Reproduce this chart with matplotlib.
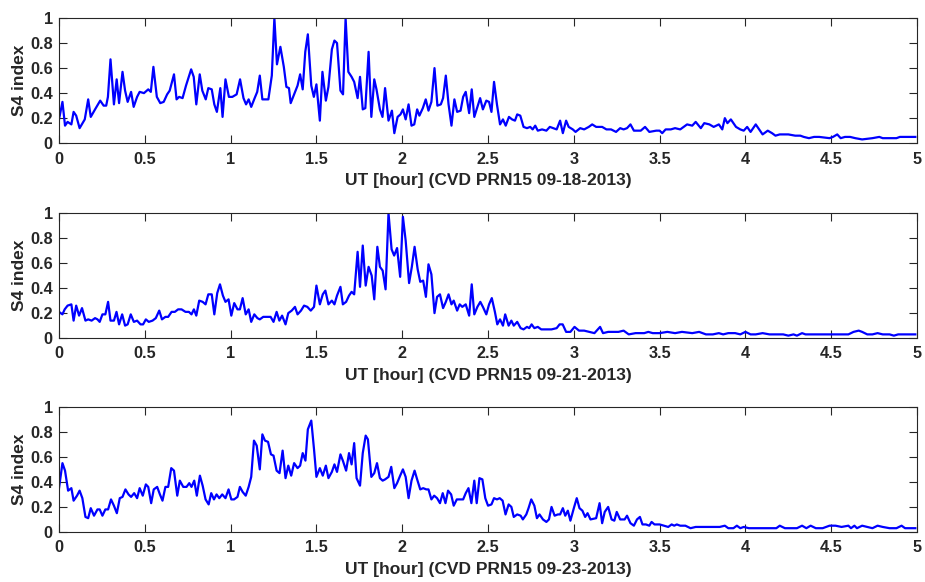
import matplotlib as mpl
mpl.use("Agg")
import matplotlib.pyplot as plt

# S4 index, UT hours vs value
hours_0918 = [0.00, 0.02, 0.035, 0.05, 0.072, 0.085, 0.10, 0.12, 0.15, 0.17, 0.185, 0.21, 0.24, 0.26, 0.275,
              0.285, 0.30, 0.32, 0.336, 0.35, 0.37, 0.385, 0.40, 0.42, 0.435, 0.455, 0.47, 0.495, 0.52, 0.535,
              0.55, 0.57, 0.59, 0.61, 0.63, 0.645, 0.67, 0.685, 0.70, 0.72, 0.74, 0.77, 0.785, 0.80, 0.82,
              0.835, 0.855, 0.87, 0.89, 0.905, 0.92, 0.94, 0.953, 0.97, 0.99, 1.01, 1.035, 1.055, 1.075, 1.09,
              1.105, 1.12, 1.14, 1.155, 1.17, 1.185, 1.205, 1.22, 1.24, 1.255, 1.27, 1.29, 1.31, 1.325, 1.34,
              1.35, 1.37, 1.39, 1.405, 1.42, 1.435, 1.45, 1.47, 1.485, 1.50, 1.52, 1.535, 1.555, 1.57, 1.59,
              1.605, 1.62, 1.64, 1.655, 1.67, 1.686, 1.705, 1.72, 1.74, 1.754, 1.77, 1.785, 1.804, 1.82, 1.837,
              1.85, 1.87, 1.885, 1.90, 1.92, 1.94, 1.954, 1.973, 1.99, 2.004, 2.02, 2.037, 2.054, 2.07, 2.087,
              2.10, 2.12, 2.137, 2.153, 2.17, 2.188, 2.205, 2.225, 2.238, 2.254, 2.27, 2.287, 2.304, 2.32, 2.34,
              2.355, 2.37, 2.39, 2.405, 2.42, 2.438, 2.454, 2.47, 2.49, 2.506, 2.52, 2.535, 2.552, 2.57, 2.587,
              2.603, 2.622, 2.64, 2.657, 2.67, 2.688, 2.707, 2.727, 2.746, 2.76, 2.775, 2.79, 2.815, 2.84, 2.86,
              2.88, 2.90, 2.92, 2.936, 2.955, 2.97, 2.994, 3.01, 3.037, 3.06, 3.087, 3.107, 3.13, 3.165, 3.19,
              3.217, 3.246, 3.27, 3.29, 3.31, 3.33, 3.35, 3.39, 3.415, 3.44, 3.48, 3.50, 3.515, 3.535, 3.565,
              3.59, 3.62, 3.64, 3.66, 3.69, 3.71, 3.74, 3.76, 3.79, 3.815, 3.845, 3.865, 3.88, 3.895, 3.915,
              3.945, 3.97, 3.99, 4.01, 4.03, 4.06, 4.08, 4.10, 4.13, 4.155, 4.175, 4.20, 4.22, 4.25, 4.29,
              4.32, 4.34, 4.37, 4.40, 4.43, 4.49, 4.51, 4.535, 4.555, 4.58, 4.61, 4.64, 4.68, 4.74, 4.78,
              4.80, 4.84, 4.88, 4.90, 4.93, 4.99]
s4_0918 = [0.19, 0.33, 0.14, 0.17, 0.15, 0.25, 0.22, 0.12, 0.19, 0.35, 0.21, 0.27, 0.34, 0.30, 0.30,
           0.37, 0.67, 0.31, 0.51, 0.32, 0.57, 0.42, 0.33, 0.41, 0.29, 0.37, 0.41, 0.40, 0.43, 0.41,
           0.61, 0.37, 0.32, 0.33, 0.39, 0.42, 0.55, 0.35, 0.37, 0.36, 0.46, 0.59, 0.53, 0.31, 0.55,
           0.42, 0.35, 0.44, 0.43, 0.31, 0.25, 0.44, 0.21, 0.51, 0.37, 0.37, 0.39, 0.51, 0.36, 0.31,
           0.35, 0.29, 0.36, 0.41, 0.54, 0.35, 0.35, 0.35, 0.54, 1.00, 0.63, 0.77, 0.61, 0.45, 0.44,
           0.32, 0.39, 0.46, 0.55, 0.43, 0.73, 0.87, 0.46, 0.37, 0.47, 0.18, 0.57, 0.34, 0.45, 0.75,
           0.82, 0.80, 0.42, 0.39, 1.00, 0.57, 0.53, 0.49, 0.36, 0.53, 0.27, 0.28, 0.73, 0.21, 0.51,
           0.43, 0.27, 0.21, 0.44, 0.18, 0.26, 0.08, 0.21, 0.23, 0.27, 0.19, 0.31, 0.14, 0.15, 0.27,
           0.22, 0.28, 0.35, 0.26, 0.33, 0.60, 0.30, 0.31, 0.36, 0.54, 0.31, 0.14, 0.35, 0.25, 0.26,
           0.37, 0.41, 0.24, 0.43, 0.21, 0.29, 0.36, 0.27, 0.34, 0.33, 0.25, 0.49, 0.31, 0.15, 0.19,
           0.14, 0.21, 0.19, 0.18, 0.23, 0.22, 0.13, 0.12, 0.13, 0.11, 0.14, 0.10, 0.11, 0.10, 0.13,
           0.12, 0.11, 0.18, 0.08, 0.18, 0.13, 0.11, 0.09, 0.12, 0.11, 0.13, 0.15, 0.13, 0.13, 0.11,
           0.11, 0.09, 0.12, 0.11, 0.12, 0.15, 0.10, 0.10, 0.13, 0.09, 0.10, 0.10, 0.08, 0.11, 0.11,
           0.12, 0.11, 0.13, 0.15, 0.14, 0.17, 0.12, 0.16, 0.15, 0.13, 0.15, 0.11, 0.20, 0.16, 0.19,
           0.13, 0.11, 0.10, 0.13, 0.09, 0.15, 0.11, 0.07, 0.10, 0.08, 0.06, 0.07, 0.07, 0.07, 0.06,
           0.06, 0.05, 0.04, 0.05, 0.05, 0.04, 0.05, 0.07, 0.04, 0.05, 0.05, 0.04, 0.03, 0.04, 0.05,
           0.04, 0.04, 0.04, 0.05, 0.05, 0.05]

hours_0921 = [0.00, 0.02, 0.033, 0.05, 0.072, 0.085, 0.10, 0.117, 0.134, 0.154, 0.17, 0.19, 0.21, 0.224, 0.237,
              0.253, 0.27, 0.286, 0.30, 0.32, 0.335, 0.35, 0.368, 0.385, 0.40, 0.418, 0.436, 0.455, 0.475, 0.49,
              0.506, 0.523, 0.545, 0.564, 0.584, 0.60, 0.62, 0.636, 0.656, 0.675, 0.694, 0.714, 0.737, 0.757, 0.772,
              0.786, 0.80, 0.817, 0.837, 0.854, 0.87, 0.89, 0.905, 0.922, 0.938, 0.955, 0.97, 0.988, 1.004, 1.021,
              1.04, 1.054, 1.07, 1.088, 1.105, 1.12, 1.138, 1.156, 1.17, 1.19, 1.21, 1.233, 1.25, 1.268, 1.284,
              1.30, 1.32, 1.336, 1.356, 1.375, 1.39, 1.41, 1.428, 1.447, 1.467, 1.486, 1.50, 1.52, 1.537, 1.552,
              1.57, 1.59, 1.605, 1.62, 1.64, 1.654, 1.673, 1.69, 1.705, 1.72, 1.74, 1.754, 1.77, 1.787, 1.804,
              1.822, 1.837, 1.855, 1.87, 1.886, 1.903, 1.92, 1.938, 1.953, 1.97, 1.988, 2.004, 2.02, 2.04, 2.056,
              2.072, 2.09, 2.105, 2.122, 2.138, 2.153, 2.17, 2.188, 2.203, 2.22, 2.238, 2.254, 2.27, 2.287, 2.30,
              2.32, 2.335, 2.35, 2.37, 2.39, 2.405, 2.42, 2.438, 2.455, 2.47, 2.49, 2.506, 2.522, 2.54, 2.554,
              2.57, 2.587, 2.60, 2.62, 2.636, 2.65, 2.67, 2.69, 2.707, 2.727, 2.74, 2.754, 2.77, 2.79, 2.81,
              2.84, 2.87, 2.90, 2.917, 2.935, 2.955, 2.98, 3.004, 3.03, 3.06, 3.09, 3.12, 3.153, 3.17, 3.20,
              3.227, 3.26, 3.29, 3.32, 3.36, 3.41, 3.434, 3.46, 3.50, 3.545, 3.59, 3.63, 3.69, 3.73, 3.77,
              3.81, 3.845, 3.87, 3.90, 3.94, 3.97, 4.00, 4.03, 4.06, 4.10, 4.14, 4.18, 4.22, 4.25, 4.28,
              4.30, 4.33, 4.35, 4.37, 4.45, 4.53, 4.60, 4.63, 4.66, 4.68, 4.71, 4.74, 4.77, 4.80, 4.84,
              4.865, 4.89, 4.95, 4.99]
s4_0921 = [0.21, 0.19, 0.23, 0.26, 0.27, 0.14, 0.26, 0.18, 0.24, 0.14, 0.15, 0.14, 0.16, 0.15, 0.13,
           0.19, 0.19, 0.29, 0.14, 0.14, 0.21, 0.11, 0.19, 0.10, 0.11, 0.19, 0.13, 0.14, 0.11, 0.11,
           0.15, 0.13, 0.14, 0.16, 0.22, 0.15, 0.17, 0.17, 0.21, 0.21, 0.23, 0.23, 0.21, 0.21, 0.19,
           0.23, 0.18, 0.30, 0.29, 0.27, 0.35, 0.35, 0.19, 0.36, 0.43, 0.34, 0.29, 0.31, 0.18, 0.28,
           0.23, 0.23, 0.32, 0.19, 0.23, 0.13, 0.19, 0.16, 0.15, 0.17, 0.17, 0.17, 0.13, 0.21, 0.14,
           0.18, 0.11, 0.20, 0.22, 0.25, 0.19, 0.22, 0.26, 0.25, 0.22, 0.25, 0.42, 0.27, 0.35, 0.38,
           0.27, 0.30, 0.27, 0.34, 0.41, 0.27, 0.29, 0.34, 0.37, 0.35, 0.69, 0.41, 0.74, 0.42, 0.57,
           0.50, 0.31, 0.73, 0.57, 0.54, 0.39, 1.00, 0.71, 0.66, 0.72, 0.49, 0.97, 0.78, 0.44, 0.57,
           0.73, 0.55, 0.45, 0.46, 0.33, 0.59, 0.51, 0.20, 0.33, 0.35, 0.24, 0.29, 0.35, 0.27, 0.30,
           0.22, 0.27, 0.25, 0.27, 0.18, 0.43, 0.19, 0.25, 0.29, 0.25, 0.19, 0.27, 0.32, 0.21, 0.11,
           0.15, 0.10, 0.19, 0.10, 0.14, 0.10, 0.13, 0.08, 0.07, 0.09, 0.08, 0.11, 0.08, 0.09, 0.07,
           0.07, 0.07, 0.08, 0.11, 0.11, 0.05, 0.05, 0.09, 0.06, 0.06, 0.05, 0.04, 0.09, 0.04, 0.05,
           0.05, 0.05, 0.06, 0.03, 0.04, 0.04, 0.05, 0.04, 0.04, 0.05, 0.04, 0.05, 0.04, 0.05, 0.03,
           0.03, 0.04, 0.03, 0.04, 0.04, 0.03, 0.05, 0.03, 0.03, 0.04, 0.03, 0.03, 0.03, 0.02, 0.03,
           0.02, 0.04, 0.03, 0.03, 0.03, 0.03, 0.03, 0.05, 0.06, 0.05, 0.03, 0.03, 0.04, 0.03, 0.03,
           0.02, 0.03, 0.03, 0.03]

hours_0923 = [0.00, 0.02, 0.035, 0.053, 0.072, 0.085, 0.105, 0.12, 0.136, 0.154, 0.17, 0.185, 0.204, 0.224, 0.237,
              0.253, 0.27, 0.286, 0.303, 0.32, 0.337, 0.354, 0.37, 0.387, 0.405, 0.42, 0.438, 0.455, 0.47, 0.488,
              0.506, 0.52, 0.537, 0.552, 0.572, 0.588, 0.603, 0.62, 0.636, 0.654, 0.67, 0.689, 0.704, 0.724, 0.743,
              0.759, 0.772, 0.788, 0.803, 0.821, 0.837, 0.854, 0.872, 0.887, 0.903, 0.918, 0.934, 0.951, 0.97, 0.988,
              1.004, 1.02, 1.04, 1.054, 1.07, 1.088, 1.105, 1.12, 1.136, 1.152, 1.17, 1.185, 1.20, 1.218, 1.235,
              1.25, 1.268, 1.285, 1.303, 1.32, 1.336, 1.353, 1.37, 1.39, 1.405, 1.42, 1.436, 1.45, 1.47, 1.486,
              1.50, 1.52, 1.537, 1.555, 1.57, 1.59, 1.605, 1.62, 1.64, 1.654, 1.673, 1.69, 1.705, 1.72, 1.734,
              1.754, 1.77, 1.787, 1.80, 1.82, 1.837, 1.853, 1.87, 1.886, 1.90, 1.92, 1.936, 1.954, 1.97, 1.988,
              2.004, 2.02, 2.037, 2.054, 2.072, 2.087, 2.105, 2.122, 2.14, 2.153, 2.17, 2.186, 2.203, 2.22, 2.236,
              2.252, 2.267, 2.285, 2.30, 2.318, 2.335, 2.355, 2.37, 2.386, 2.403, 2.42, 2.434, 2.45, 2.467, 2.484,
              2.50, 2.52, 2.535, 2.552, 2.568, 2.585, 2.602, 2.62, 2.636, 2.65, 2.67, 2.69, 2.703, 2.723, 2.736,
              2.752, 2.77, 2.785, 2.80, 2.82, 2.84, 2.855, 2.87, 2.888, 2.907, 2.92, 2.936, 2.95, 2.965, 2.98,
              3.00, 3.017, 3.033, 3.05, 3.066, 3.08, 3.097, 3.13, 3.15, 3.165, 3.18, 3.20, 3.22, 3.236, 3.25,
              3.27, 3.296, 3.31, 3.33, 3.35, 3.368, 3.385, 3.40, 3.42, 3.44, 3.453, 3.47, 3.50, 3.525, 3.55,
              3.57, 3.585, 3.60, 3.62, 3.65, 3.68, 3.71, 3.79, 3.85, 3.88, 3.90, 3.93, 3.95, 3.97, 3.99,
              4.02, 4.10, 4.18, 4.20, 4.23, 4.30, 4.33, 4.355, 4.38, 4.41, 4.45, 4.49, 4.525, 4.56, 4.60,
              4.615, 4.635, 4.65, 4.68, 4.71, 4.74, 4.77, 4.80, 4.84, 4.88, 4.91, 4.93, 4.99]
s4_0923 = [0.35, 0.55, 0.49, 0.33, 0.35, 0.25, 0.29, 0.33, 0.27, 0.12, 0.11, 0.19, 0.13, 0.18, 0.18,
           0.13, 0.18, 0.18, 0.26, 0.21, 0.15, 0.27, 0.28, 0.34, 0.30, 0.28, 0.31, 0.27, 0.35, 0.29,
           0.38, 0.36, 0.23, 0.34, 0.36, 0.30, 0.25, 0.36, 0.36, 0.51, 0.49, 0.29, 0.41, 0.36, 0.36,
           0.39, 0.36, 0.41, 0.29, 0.45, 0.37, 0.26, 0.22, 0.31, 0.26, 0.30, 0.27, 0.30, 0.27, 0.34,
           0.26, 0.26, 0.28, 0.36, 0.32, 0.29, 0.36, 0.44, 0.73, 0.69, 0.50, 0.78, 0.73, 0.72, 0.62,
           0.61, 0.49, 0.47, 0.65, 0.43, 0.53, 0.45, 0.55, 0.51, 0.53, 0.63, 0.57, 0.82, 0.89, 0.66,
           0.44, 0.51, 0.45, 0.53, 0.43, 0.48, 0.54, 0.48, 0.62, 0.57, 0.49, 0.63, 0.54, 0.71, 0.43,
           0.37, 0.63, 0.77, 0.74, 0.44, 0.47, 0.55, 0.43, 0.41, 0.42, 0.44, 0.52, 0.35, 0.39, 0.45,
           0.50, 0.44, 0.27, 0.41, 0.49, 0.42, 0.34, 0.35, 0.34, 0.34, 0.26, 0.29, 0.27, 0.23, 0.31,
           0.23, 0.33, 0.30, 0.21, 0.26, 0.26, 0.26, 0.31, 0.35, 0.23, 0.41, 0.23, 0.43, 0.42, 0.27,
           0.21, 0.22, 0.27, 0.26, 0.27, 0.25, 0.14, 0.22, 0.20, 0.12, 0.14, 0.13, 0.10, 0.14, 0.19,
           0.26, 0.21, 0.11, 0.14, 0.10, 0.08, 0.10, 0.20, 0.13, 0.14, 0.14, 0.19, 0.13, 0.17, 0.09,
           0.19, 0.27, 0.19, 0.17, 0.12, 0.15, 0.10, 0.11, 0.23, 0.07, 0.16, 0.20, 0.10, 0.09, 0.16,
           0.10, 0.10, 0.13, 0.07, 0.05, 0.10, 0.12, 0.06, 0.06, 0.05, 0.08, 0.06, 0.06, 0.05, 0.04,
           0.06, 0.05, 0.06, 0.05, 0.05, 0.03, 0.04, 0.04, 0.04, 0.05, 0.03, 0.03, 0.05, 0.03, 0.04,
           0.03, 0.03, 0.03, 0.05, 0.03, 0.03, 0.05, 0.03, 0.05, 0.03, 0.03, 0.05, 0.05, 0.04, 0.05,
           0.03, 0.05, 0.03, 0.05, 0.04, 0.03, 0.05, 0.04, 0.03, 0.03, 0.05, 0.03, 0.03]

dates = ["09-18-2013", "09-21-2013", "09-23-2013"]
x_ticks = [0, 0.5, 1, 1.5, 2, 2.5, 3, 3.5, 4, 4.5, 5]
x_tick_labels = ["0", "0.5", "1", "1.5", "2", "2.5", "3", "3.5", "4", "4.5", "5"]
y_ticks = [0, 0.2, 0.4, 0.6, 0.8, 1]
y_tick_labels = ["0", "0.2", "0.4", "0.6", "0.8", "1"]

mpl.rcParams.update({'font.family': 'Liberation Sans', 'font.weight': 'bold', 'font.size': 11.7})

fig = plt.figure(figsize=(9.25, 5.82), dpi=100, facecolor='white')

series = [(hours_0918, s4_0918), (hours_0921, s4_0921), (hours_0923, s4_0923)]
bottoms = [0.754, 0.419, 0.086]
ink = '#262626'

for (hrs, s4), date, bottom in zip(series, dates, bottoms):
    ax = fig.add_axes([0.0638, bottom, 0.9276, 0.215])
    ax.plot(hrs, s4, color='#0000FF', linewidth=1.6)
    ax.set_xlim(0, 5)
    ax.set_ylim(0, 1)
    ax.set_xticks(x_ticks)
    ax.set_xticklabels(x_tick_labels, fontweight='bold')
    ax.set_yticks(y_ticks)
    ax.set_yticklabels(y_tick_labels, fontweight='bold')
    ax.tick_params(direction='in', length=6, width=0.8, top=True, right=True,
                   colors=ink, labelcolor=ink)
    ax.tick_params(axis='x', pad=6)
    ax.tick_params(axis='y', pad=4.5)
    for sp in ax.spines.values():
        sp.set_color(ink)
        sp.set_linewidth(0.8)
    ax.set_xlabel("UT [hour] (CVD PRN15 {})".format(date), fontweight='bold',
                  fontsize=12.5, color=ink, labelpad=4.5)
    ax.set_ylabel("S4 index", fontweight='bold', fontsize=12.5, color=ink, labelpad=2.5)

fig.savefig("out.png", dpi=100, facecolor='white')
